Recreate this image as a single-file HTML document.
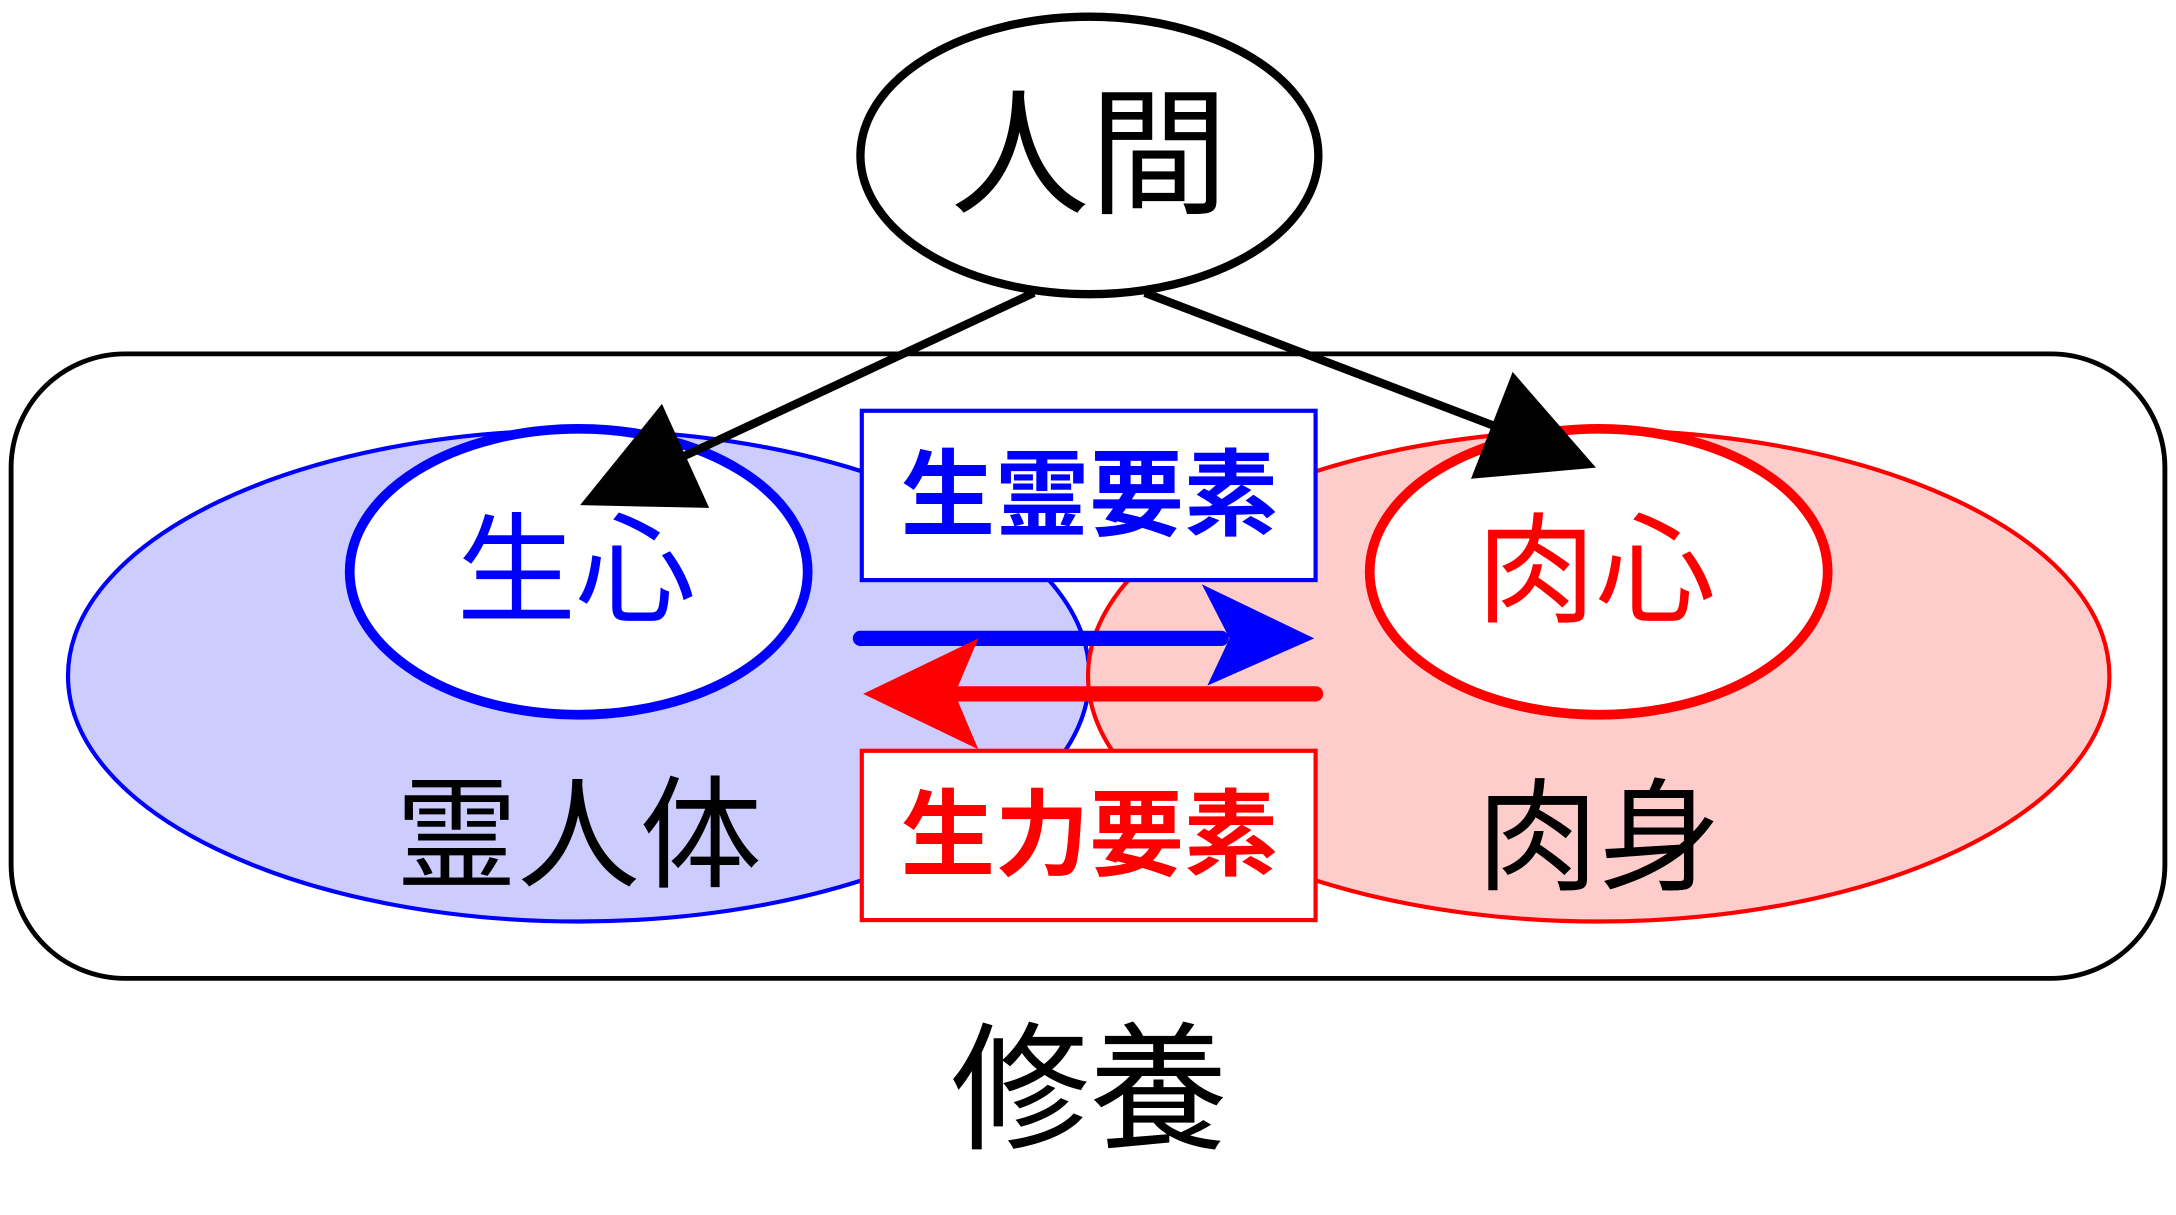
<!DOCTYPE html>
<html><head><meta charset="utf-8"><style>html,body{margin:0;padding:0;background:#fff;}svg{display:block}</style></head>
<body>
<svg width="2176" height="1215" viewBox="0 0 1568 875.5" preserveAspectRatio="none" xmlns="http://www.w3.org/2000/svg" font-family="'Liberation Sans','Noto Sans CJK JP',sans-serif">
<rect x="0" y="0" width="1568" height="876" fill="#fff"/>
<rect x="8" y="255" width="1552" height="450" rx="82" ry="82" fill="none" stroke="#000" stroke-width="3.5"/>
<ellipse cx="417" cy="487" rx="368" ry="177" fill="#ccccff" stroke="#0000ff" stroke-width="3"/>
<ellipse cx="1152" cy="487" rx="368" ry="177" fill="#ffcccc" stroke="#ff0000" stroke-width="3"/>
<ellipse cx="417" cy="412" rx="165" ry="103" fill="#fff" stroke="#0000ff" stroke-width="7"/>
<ellipse cx="1152" cy="412" rx="165" ry="103" fill="#fff" stroke="#ff0000" stroke-width="7"/>
<rect x="621" y="296" width="327" height="122" fill="#fff" stroke="#0000ff" stroke-width="3"/>
<rect x="621" y="541" width="327" height="122" fill="#fff" stroke="#ff0000" stroke-width="3"/>
<line x1="620" y1="460" x2="880" y2="460" stroke="#0000ff" stroke-width="11" stroke-linecap="round"/>
<polygon points="866,421 947,460 870,494 886,460" fill="#0000ff"/>
<line x1="948" y1="500" x2="690" y2="500" stroke="#ff0000" stroke-width="11" stroke-linecap="round"/>
<polygon points="705,460 622,500 705,540 688,500" fill="#ff0000"/>
<ellipse cx="785" cy="112" rx="165" ry="100" fill="#fff" stroke="#000" stroke-width="6"/>
<line x1="745" y1="211" x2="490" y2="330" stroke="#000" stroke-width="6"/>
<polygon points="477,291 418,364 511,366" fill="#000"/>
<line x1="825" y1="211" x2="1085" y2="310" stroke="#000" stroke-width="6"/>
<polygon points="1090,268 1150,337 1060,345" fill="#000"/>
<g text-anchor="middle" dominant-baseline="central">
<text x="785" y="112" font-size="100" fill="#000">人間</text>
<text x="415" y="412" font-size="86" fill="#0000ff">生心</text>
<text x="1150" y="412" font-size="86" fill="#ff0000">肉心</text>
<text x="785" y="357" font-size="68" font-weight="bold" fill="#0000ff">生霊要素</text>
<text x="785" y="602" font-size="68" font-weight="bold" fill="#ff0000">生力要素</text>
<text x="417" y="602" font-size="88" fill="#000">霊人体</text>
<text x="1152" y="604" font-size="88" fill="#000">肉身</text>
<text x="785" y="786" font-size="100" fill="#000">修養</text>
</g>
</svg>
</body></html>
